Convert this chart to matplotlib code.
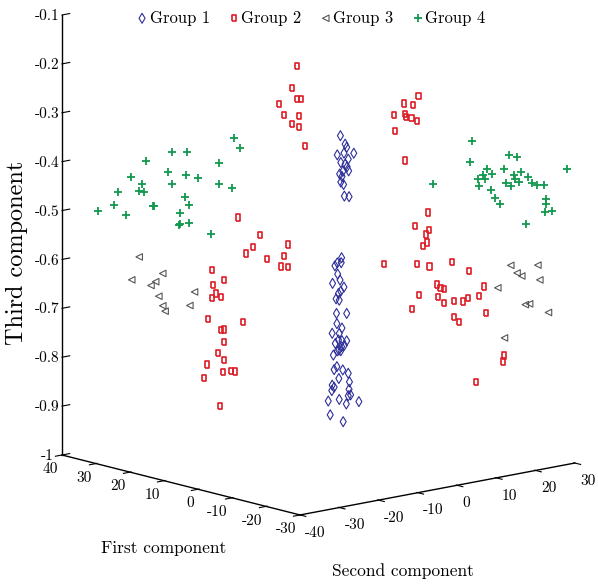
import matplotlib
matplotlib.use("Agg")
import matplotlib.pyplot as plt
from mpl_toolkits.mplot3d import proj3d

plt.rcParams["font.family"] = ["cmr10", "DejaVu Serif"]
plt.rcParams["axes.unicode_minus"] = False
plt.rcParams["mathtext.fontset"] = "cm"

# ---------------- data ----------------
# Group 1 (diamonds)
g1_first = [2.0, 2.0, 2.0, 2.0, 2.0, 2.0, 2.0, 2.0, 2.0, 2.0, 2.0, 2.0, 2.0, 2.0, 2.0, 2.0,
            2.0, 2.0, 2.0, 2.0, 2.0, 2.0, 2.0, 2.0, 2.0, 2.0, 2.0, 2.0, 2.0, 2.0, 2.0, 2.0,
            2.0, 2.0, 2.0, 2.0, 2.0, 2.0, 2.0, 2.0, 2.0, 2.0, 2.0, 2.0, 2.0, 2.0, 2.0, 2.0,
            2.0, 2.0, 2.0, 2.0, 2.0, 2.0, 2.0, 2.0, 2.0, 2.0, 2.0, 2.0, 2.0, 2.0, 2.0, 2.0]
g1_second = [-2.0, -0.8, -0.4, -1.1, -2.8, 1.4, 0.0, -1.9, -0.8, -0.3, 0.1, -1.4, -2.2, -1.6,
             -1.9, -1.2, -1.0, 0.2,
             -1.7, -1.8, -2.8, -3.4, -2.7, -2.1, -4.0, -1.1, -1.9, -2.5,
             -3.1, -2.3, -0.4, -3.0, -2.9, -1.6, -4.1, -2.3, -2.5, -1.6,
             -0.4, -3.3, -1.7, -1.0, -2.4, -3.8, -2.8, -1.9, -2.9, -1.4,
             -3.6, 0.0, -2.4, 0.3, -4.1, -3.6, 0.2, -4.2, 0.0, 0.6,
             -5.1, -2.3, 2.7, -0.5, -4.6, -1.3]
g1_third = [-0.338, -0.357, -0.364, -0.375, -0.376, -0.379, -0.389, -0.393, -0.398, -0.404,
            -0.413, -0.412, -0.416, -0.422, -0.433, -0.439, -0.463, -0.466,
            -0.588, -0.598, -0.597, -0.602, -0.620, -0.633, -0.637, -0.649, -0.656, -0.660,
            -0.670, -0.674, -0.704, -0.700, -0.721, -0.732, -0.739, -0.742, -0.755, -0.758,
            -0.760, -0.761, -0.770, -0.768, -0.776, -0.784, -0.777, -0.778, -0.809, -0.818,
            -0.814, -0.827, -0.834, -0.845, -0.845, -0.850, -0.860, -0.856, -0.873, -0.872,
            -0.876, -0.877, -0.889, -0.889, -0.905, -0.924]

# Group 2 (squares)
g2_first = [10.0, 10.0, 10.0, 10.0, 10.0, 10.0, 10.0, 10.0, 10.0, 10.0,
            -10.0, -10.0, -10.0, -10.0, -10.0, -10.0, -10.0, -10.0, -10.0, -10.0,
            -25.0, -25.0, -25.0, -25.0, -25.0, -25.0, -25.0, -25.0, -25.0, -25.0,
            -25.0, -25.0, -25.0, -25.0, -25.0, -25.0, -25.0, -25.0, -25.0, -25.0,
            -25.0, -25.0, -25.0, -25.0, -25.0, -25.0, -25.0, -25.0, -25.0,
            25.0, 25.0, 25.0, 25.0, 25.0, 25.0, 25.0, 25.0, 25.0, 25.0,
            25.0, 25.0, 25.0, 25.0, 25.0, 25.0, 25.0, 25.0, 25.0, 25.0,
            25.0, 25.0, 25.0, 25.0, 25.0, 25.0, 25.0, 25.0]
g2_second = [-6.1, -7.4, -6.1, -5.1, -10.7, -9.5, -5.6, -7.5, -5.6, -4.0,
             7.5, 3.9, 6.1, 1.2, 4.0, 4.3, 5.7, 7.0, 1.6, 4.1,
             -3.1, -6.3, -2.8, -3.7, -3.4, -4.3, -14.4, -5.8, -2.7, 3.1,
             7.4, -0.7, 0.1, 1.0, 11.2, -5.3, -0.5, 9.9, 1.0, 3.5,
             5.9, 7.0, -7.1, 11.7, 3.6, 4.8, 16.3, 16.1, 9.1,
             -8.2, -2.6, -4.3, -6.1, 4.6, 3.5, -0.8, 2.7, 4.5, -14.8,
             -11.7, -14.6, -13.8, -12.5, -14.8, -15.8, -6.8, -12.5, -11.7, -11.7,
             -13.3, -11.8, -16.1, -12.0, -10.0, -8.9, -16.8, -12.8]
g2_third = [-0.204, -0.247, -0.270, -0.273, -0.274, -0.298, -0.306, -0.320, -0.329, -0.370,
            -0.250, -0.260, -0.266, -0.279, -0.281, -0.288, -0.293, -0.300, -0.313, -0.377,
            -0.446, -0.469, -0.482, -0.490, -0.507, -0.513, -0.534, -0.547, -0.557, -0.557,
            -0.581, -0.597, -0.605, -0.608, -0.619, -0.612, -0.623, -0.637, -0.638, -0.637,
            -0.642, -0.637, -0.637, -0.674, -0.670, -0.682, -0.768, -0.780, -0.811,
            -0.536, -0.580, -0.603, -0.613, -0.611, -0.632, -0.632, -0.653, -0.656, -0.633,
            -0.659, -0.664, -0.683, -0.692, -0.691, -0.732, -0.752, -0.759, -0.760, -0.786,
            -0.805, -0.823, -0.825, -0.846, -0.848, -0.850, -0.852, -0.914]

# Group 3 (triangles)
g3_first = [30.0, 30.0, 30.0, 30.0, 30.0, 30.0, 30.0, 30.0, 30.0, 30.0,
            -28.0, -28.0, -28.0, -28.0, -28.0, -28.0, -28.0, -28.0, -28.0, -28.0]
g3_second = [-29.0, -23.0, -30.9, -24.8, -26.0, -24.0, -14.9, -16.1, -23.0, -22.4,
             15.4, 22.3, 17.0, 18.2, 22.8, 12.1, 19.1, 20.2, 25.0, 13.8]
g3_third = [-0.594, -0.637, -0.638, -0.651, -0.657, -0.682, -0.687, -0.713, -0.703, -0.715,
            -0.577, -0.587, -0.595, -0.603, -0.618, -0.618, -0.663, -0.663, -0.688, -0.723]

# Group 4 (plus)
g4_first = [35.0, 35.0, 35.0, 35.0, 35.0, 35.0, 35.0, 35.0, 35.0, 35.0,
            35.0, 35.0, 35.0, 35.0, 35.0, 35.0, 35.0, 35.0, 35.0, 35.0,
            35.0, 35.0, 35.0, 35.0, 35.0, 35.0, 35.0, 35.0, 35.0,
            -28.0, -28.0, -28.0, -28.0, -28.0, -28.0, -28.0, -28.0, -28.0, -28.0,
            -28.0, -28.0, -28.0, -28.0, -28.0, -28.0, -28.0, -28.0, -28.0, -28.0,
            -28.0, -28.0, -28.0, -28.0, -28.0, -28.0, -28.0, -28.0, -28.0, -28.0,
            -28.0]
g4_second = [-0.6, 1.0, -16.4, -12.6, -22.9, -4.3, -17.3, -12.7, -26.8, -9.8,
             -24.0, -16.3, -4.3, -1.1, -30.1, -24.8, -23.5, -13.1, -11.9, -31.1,
             -21.2, -20.8, -35.2, -28.0, -14.3, -14.3, -14.5, -11.9, -6.4,
             5.5, 15.0, 17.0, 5.1, 29.7, 9.3, 13.8, 8.4, 10.5, 18.0,
             16.2, 7.0, 8.9, 19.8, 16.4, 14.1, 17.5, 20.9, 22.0, 23.8,
             15.4, 7.4, 10.4, -4.3, 11.4, 12.7, 24.3, 24.4, 24.0, 25.8,
             19.2]
g4_third = [-0.402, -0.425, -0.408, -0.414, -0.415, -0.449, -0.446, -0.459, -0.443, -0.471,
            -0.462, -0.473, -0.492, -0.504, -0.469, -0.475, -0.479, -0.504, -0.523, -0.493,
            -0.510, -0.511, -0.499, -0.518, -0.535, -0.557, -0.560, -0.559, -0.590,
            -0.308, -0.350, -0.358, -0.349, -0.401, -0.370, -0.378, -0.381, -0.383, -0.390,
            -0.394, -0.387, -0.390, -0.404, -0.402, -0.406, -0.410, -0.416, -0.423, -0.425,
            -0.415, -0.403, -0.415, -0.381, -0.434, -0.448, -0.455, -0.465, -0.480, -0.481,
            -0.498]

group_names = ["Group 1", "Group 2", "Group 3", "Group 4"]
first_ticks = [40, 30, 20, 10, 0, -10, -20, -30]
second_ticks = [-40, -30, -20, -10, 0, 10, 20, 30]
third_ticks = [-1.0, -0.9, -0.8, -0.7, -0.6, -0.5, -0.4, -0.3, -0.2, -0.1]
third_labels = ["-1", "-0.9", "-0.8", "-0.7", "-0.6", "-0.5", "-0.4", "-0.3", "-0.2", "-0.1"]

# ---------------- figure ----------------
W, H = 598, 588
fig = plt.figure(figsize=(W / 100, H / 100), dpi=100)
ax = fig.add_axes([0.05, 0.05, 0.9, 0.9], projection="3d", proj_type="ortho")
ax.view_init(elev=12.6, azim=-40.9)
ax.set_box_aspect((1, 1, 1.24))

rect = [(-0.33, -0.5), (0.33, -0.5), (0.33, 0.5), (-0.33, 0.5), (-0.33, -0.5)]
kw = dict(depthshade=False)
h1 = ax.scatter(g1_first, g1_second, g1_third, marker="d", s=26, facecolors="none",
                edgecolors="#2e2e9a", linewidths=0.8, **kw)
h2 = ax.scatter(g2_first, g2_second, g2_third, marker=rect, s=20, facecolors="none",
                edgecolors="#dd1c26", linewidths=1.2, **kw)
h3 = ax.scatter(g3_first, g3_second, g3_third, marker="<", s=22, facecolors="none",
                edgecolors="#555555", linewidths=0.8, **kw)
h4 = ax.scatter(g4_first, g4_second, g4_third, marker="+", s=32, c="#12994f",
                linewidths=1.3, **kw)

ax.set_xlim(40, -30)
ax.set_ylim(-40, 30)
ax.set_zlim(-1, -0.1)
ax.set_xticks(first_ticks)
ax.set_xticklabels([str(t) for t in first_ticks], ha="right")
ax.set_yticks(second_ticks)
ax.set_yticklabels([str(t) for t in second_ticks], ha="left")
ax.set_zticks(third_ticks)
ax.set_zticklabels(third_labels, va="center_baseline")
ax.tick_params(labelsize=11)
ax.xaxis.set_tick_params(pad=-4.2)
ax.yaxis.set_tick_params(pad=-2.5)
ax.zaxis.set_tick_params(pad=-1.0)
ax.zaxis.set_ticks_position("lower")
ax.zaxis.set_label_position("lower")
ax.grid(False)
for axis in (ax.xaxis, ax.yaxis, ax.zaxis):
    axis.set_pane_color((1, 1, 1, 0))
    axis.pane.set_edgecolor((1, 1, 1, 0))
    axis.line.set_color("black")
    axis.line.set_linewidth(1.0)
    axis._axinfo["tick"]["color"] = "black"
for axis in (ax.xaxis, ax.yaxis):
    axis._axinfo["tick"]["inward_factor"] = 0.3
    axis._axinfo["tick"]["outward_factor"] = 0.05
ax.zaxis._axinfo["tick"]["inward_factor"] = 0.0
ax.zaxis._axinfo["tick"]["outward_factor"] = 0.35

# fit the axes so that the box corners sit where the reference has them
fig.canvas.draw()


def disp(pt):
    xs, ys, _ = proj3d.proj_transform(pt[0], pt[1], pt[2], ax.get_proj())
    return ax.transData.transform((xs, ys))


p_low = disp((40, -40, -1.0))
p_top = disp((40, -40, -0.1))
k = 440.0 / (p_top[1] - p_low[1])
bb = ax.get_position()
x0, y0 = bb.x0 * W, bb.y0 * H
side = bb.width * W * k
target = (62.0, H - 455.0)
nx0 = target[0] - k * (p_low[0] - x0)
ny0 = target[1] - k * (p_low[1] - y0)
ax.set_position([nx0 / W, ny0 / H, side / W, side / H])

fig.text(164 / W, 1 - 548 / H, "First component", fontsize=12.5, ha="center", va="center")
fig.text(403 / W, 1 - 571 / H, "Second component", fontsize=12.5, ha="center", va="center")
fig.text(17 / W, 1 - 253 / H, "Third component", fontsize=17.5, ha="center", va="center",
         rotation=90)

fig.legend([h1, h2, h3, h4], group_names, loc="center", bbox_to_anchor=(310 / W, 1 - 18 / H),
           ncol=4, frameon=False, fontsize=12, handletextpad=0.0, handlelength=0.9,
           columnspacing=1.0, scatterpoints=1)

fig.savefig("out.png", dpi=100)
